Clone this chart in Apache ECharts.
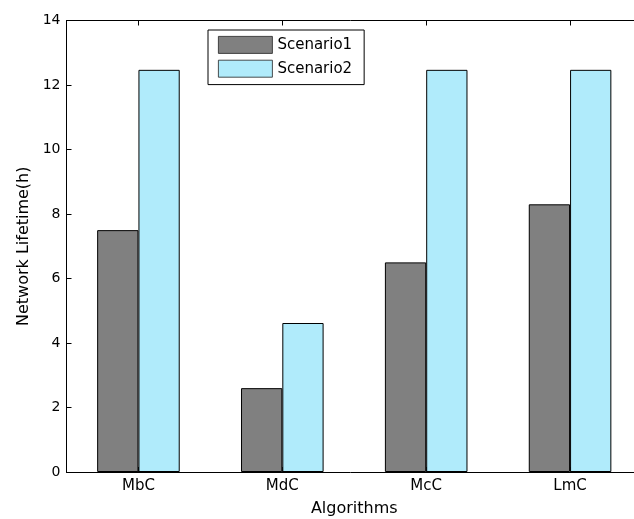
<!DOCTYPE html>
<html>
<head>
<meta charset="utf-8">
<script src="https://cdn.jsdelivr.net/npm/echarts@6/dist/echarts.min.js"></script>
<style>
html,body{margin:0;padding:0;background:#fff;}
#chart{width:634px;height:519px;}
</style>
</head>
<body>
<div id="chart"></div>
<script>
const categories = ['MbC', 'MdC', 'McC', 'LmC'];
const scenario1 = [7.5, 2.6, 6.5, 8.3];
const scenario2 = [12.47, 4.62, 12.47, 12.47];
const seriesNames = ['Scenario1', 'Scenario2'];

const FONT = 'DejaVu Sans';
const chart = echarts.init(document.getElementById('chart'), null, {renderer: 'canvas'});
chart.setOption({
  animation: false,
  backgroundColor: '#ffffff',
  grid: {left: 66.5, top: 20.5, bottom: 47, right: -8, outerBoundsMode: 'none', containLabel: false},
  legend: {
    orient: 'vertical',
    left: 208,
    top: 30,
    data: seriesNames,
    icon: 'rect',
    itemWidth: 54,
    itemHeight: 17,
    itemGap: 6,
    padding: [6, 12, 7, 10],
    borderColor: '#000',
    borderWidth: 1,
    backgroundColor: '#fff',
    itemStyle: {borderWidth: 0.8, borderColor: '#222'},
    textStyle: {fontFamily: FONT, fontSize: 15, color: '#000'}
  },
  xAxis: [{
    type: 'category',
    data: categories,
    position: 'bottom',
    boundaryGap: true,
    axisLine: {lineStyle: {color: '#000', width: 1}},
    axisTick: {show: true, inside: true, alignWithLabel: true, length: 5, lineStyle: {color: '#000'}},
    axisLabel: {fontFamily: FONT, fontSize: 15, color: '#000', margin: 7},
    name: 'Algorithms',
    nameLocation: 'middle',
    nameGap: 29,
    nameTextStyle: {fontFamily: FONT, fontSize: 16, color: '#000'},
    splitLine: {show: false}
  }, {
    type: 'category',
    data: categories,
    position: 'top',
    boundaryGap: true,
    axisLine: {lineStyle: {color: '#000', width: 1}},
    axisTick: {show: true, inside: true, alignWithLabel: true, length: 5, lineStyle: {color: '#000'}},
    axisLabel: {show: false},
    splitLine: {show: false}
  }],
  yAxis: {
    type: 'value',
    min: 0,
    max: 14,
    interval: 2,
    axisLine: {show: true, lineStyle: {color: '#000', width: 1}},
    axisTick: {show: true, inside: true, length: 5, lineStyle: {color: '#000'}},
    axisLabel: {fontFamily: FONT, fontSize: 14, color: '#000', margin: 6},
    splitLine: {show: false},
    name: 'Network Lifetime(h)',
    nameLocation: 'middle',
    nameGap: 30,
    nameTextStyle: {fontFamily: FONT, fontSize: 16, color: '#000'}
  },
  series: [{
    name: seriesNames[0],
    type: 'bar',
    data: scenario1,
    barWidth: '28.7%',
    barGap: '0%',
    itemStyle: {color: '#808080', borderColor: '#000', borderWidth: 1}
  }, {
    name: seriesNames[1],
    type: 'bar',
    data: scenario2,
    barWidth: '28.7%',
    barGap: '0%',
    itemStyle: {color: '#b0ebfb', borderColor: '#000', borderWidth: 1}
  }]
});
</script>
</body>
</html>
